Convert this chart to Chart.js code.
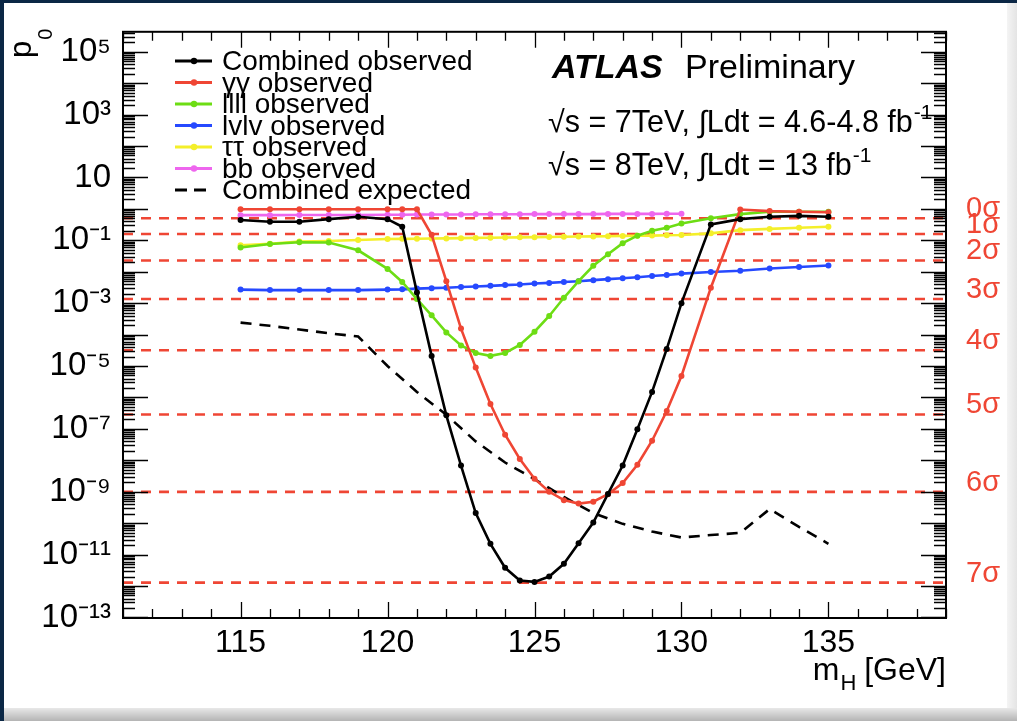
<!DOCTYPE html>
<html><head><meta charset="utf-8">
<script src="https://cdn.jsdelivr.net/npm/chart.js@4"></script>
<style>
html,body{margin:0;padding:0;width:1017px;height:721px;overflow:hidden;background:#0b2745;}
#panel{position:absolute;left:4px;top:3px;width:1003px;height:705px;background:#fff;}
#rstrip{position:absolute;left:1007px;top:3px;width:10px;height:718px;background:linear-gradient(to right,#f4f4f4,#e4e4e4);}
#bstrip{position:absolute;left:4px;top:708px;width:1013px;height:13px;background:linear-gradient(to bottom,#e8e8e8,#b4b4b4);}
canvas{position:absolute;left:0;top:0;}
</style></head>
<body>
<div id="panel"></div><div id="rstrip"></div><div id="bstrip"></div>
<canvas id="c" width="1017" height="721"></canvas>
<script>
// ---------------- data ----------------
const massObs = [115,116,117,118,119,120,120.5,121,121.5,122,122.5,123,123.5,124,124.5,125,125.5,126,126.5,127,127.5,128,128.5,129,129.5,130,131,132,133,134,135];
const massBB = [115,116,117,118,119,120,120.5,121,121.5,122,122.5,123,123.5,124,124.5,125,125.5,126,126.5,127,127.5,128,128.5,129,129.5,130];
const massExp = [115,116,117,118,119,120,121,122,123,124,125,126,127,128,129,130,131,132,133,134,135];

const combinedObs = [0.44,0.39,0.39,0.47,0.56,0.47,0.27,2.2e-3,2.1e-5,2.7e-7,6.8e-9,2.1e-10,2.2e-11,3.8e-12,1.5e-12,1.35e-12,2.0e-12,5.1e-12,2.3e-11,1.05e-10,8.5e-10,6.8e-9,9.8e-8,1.5e-6,3.5e-5,1.0e-3,0.32,0.47,0.56,0.60,0.56];
const gammaGammaObs = [0.97,0.97,0.97,0.97,0.97,0.97,0.97,0.97,0.15,5.0e-3,1.55e-4,8.9e-6,6.2e-7,6.5e-8,1.1e-8,2.6e-9,1.0e-9,5.4e-10,4.2e-10,4.8e-10,8.3e-10,1.9e-9,7.2e-9,4.2e-8,3.7e-7,4.8e-6,3.1e-3,0.95,0.85,0.81,0.78];
const llllObs = [0.059,0.076,0.087,0.085,0.048,0.0123,4.7e-3,1.35e-3,4.1e-4,1.17e-4,4.5e-5,2.6e-5,2.1e-5,2.6e-5,4.7e-5,1.23e-4,3.9e-4,1.48e-3,5.0e-3,0.0155,0.036,0.081,0.14,0.20,0.25,0.34,0.50,0.68,0.81,0.81,0.81];
const lvlvObs = [2.7e-3,2.6e-3,2.6e-3,2.6e-3,2.6e-3,2.7e-3,2.75e-3,2.9e-3,3.0e-3,3.1e-3,3.25e-3,3.4e-3,3.55e-3,3.75e-3,3.9e-3,4.2e-3,4.4e-3,4.7e-3,5.0e-3,5.4e-3,5.8e-3,6.2e-3,6.7e-3,7.3e-3,7.9e-3,8.7e-3,9.8e-3,0.0107,0.0126,0.0141,0.0158];
const tautauObs = [0.069,0.078,0.091,0.095,0.102,0.110,0.111,0.112,0.114,0.115,0.117,0.119,0.120,0.123,0.124,0.126,0.127,0.129,0.132,0.133,0.135,0.138,0.140,0.141,0.144,0.148,0.166,0.21,0.23,0.25,0.27];
const bbObs = [0.63,0.63,0.64,0.64,0.64,0.65,0.65,0.66,0.66,0.66,0.66,0.67,0.67,0.67,0.67,0.68,0.68,0.68,0.68,0.68,0.69,0.69,0.69,0.69,0.70,0.70];
const combinedExp = [2.4e-4,1.9e-4,1.45e-4,1.1e-4,8.7e-5,1.0e-5,1.5e-6,2.8e-7,4.0e-8,8.5e-9,2.5e-9,6.8e-10,2.1e-10,9.5e-11,5.4e-11,3.5e-11,4.2e-11,4.9e-11,2.8e-10,7.6e-11,2.2e-11];

const sigmaLabels = ['0σ','1σ','2σ','3σ','4σ','5σ','6σ','7σ'];
const sigmaP = [0.5,0.1587,0.02275,1.35e-3,3.17e-5,2.87e-7,9.87e-10,1.28e-12];

const xTickValues = [115,120,125,130,135];
const yTickValues = [1e-13,1e-11,1e-9,1e-7,1e-5,1e-3,1e-1,1e1,1e3,1e5];
const yTickLabels = ['10⁻¹³','10⁻¹¹','10⁻⁹','10⁻⁷','10⁻⁵','10⁻³','10⁻¹','10','10³','10⁵'];

const seriesLabels = ['Combined observed','γγ observed','llll observed','lvlv observed','ττ observed','bb observed','Combined expected'];
const seriesColors = ['#000000','#ef4634','#6ddd14','#2649ff','#f4ef2a','#ee66ee','#000000'];

// ---------------- build ----------------
const FONT = '"Liberation Sans", Arial, Helvetica, sans-serif';
const pts = (xs, ys) => xs.map((x, i) => ({x, y: ys[i]}));
const obsSets = [
  [massObs, combinedObs], [massObs, gammaGammaObs], [massObs, llllObs],
  [massObs, lvlvObs], [massObs, tautauObs], [massBB, bbObs]
];
const datasets = [];
obsSets.forEach((s, i) => {
  datasets.push({
    label: seriesLabels[i], data: pts(s[0], s[1]),
    borderColor: seriesColors[i], backgroundColor: seriesColors[i],
    pointBackgroundColor: seriesColors[i], pointBorderWidth: 0,
    borderWidth: 2.6, pointRadius: 3, pointHoverRadius: 3, tension: 0,
    inLegend: true, markers: true
  });
});
datasets.push({
  label: seriesLabels[6], data: pts(massExp, combinedExp),
  borderColor: seriesColors[6], borderWidth: 2.6, borderDash: [11, 8],
  pointRadius: 0, tension: 0, inLegend: true, markers: false
});
sigmaP.forEach((p, i) => {
  datasets.push({
    label: sigmaLabels[i], data: [{x: 111, y: p}, {x: 139, y: p}],
    borderColor: '#ef4634', borderWidth: 2.6, borderDash: [10, 8],
    pointRadius: 0, inLegend: false
  });
});

const decor = {
  id: 'decor',
  afterDatasetsDraw(chart) {
    const {ctx, chartArea: a, scales: {x, y}} = chart;
    ctx.save();
    ctx.strokeStyle = '#000';
    ctx.lineWidth = 1.3;
    ctx.beginPath();
    for (let e = -14; e <= 6; e++) {
      for (let k = 1; k <= 9; k++) {
        const v = k * Math.pow(10, e);
        if (v < y.min || v > y.max) continue;
        const py = Math.round(y.getPixelForValue(v)) + 0.5;
        const len = k === 1 ? 25 : 12;
        ctx.moveTo(a.left, py); ctx.lineTo(a.left + len, py);
        ctx.moveTo(a.right, py); ctx.lineTo(a.right - len, py);
      }
    }
    for (let m = 111; m <= 139; m++) {
      const px = Math.round(x.getPixelForValue(m)) + 0.5;
      const len = m % 5 === 0 ? 16 : 9;
      ctx.moveTo(px, a.bottom); ctx.lineTo(px, a.bottom - len);
      ctx.moveTo(px, a.top); ctx.lineTo(px, a.top + len);
    }
    ctx.stroke();
    ctx.lineWidth = 2;
    ctx.strokeRect(a.left, a.top, a.right - a.left, a.bottom - a.top);
    ctx.restore();
  },
  afterDraw(chart) {
    const {ctx, chartArea: a, scales: {y}} = chart;
    ctx.save();
    ctx.textBaseline = 'alphabetic';
    ctx.textAlign = 'left';
    // legend
    const ds = chart.data.datasets.filter(d => d.inLegend);
    ds.forEach((d, i) => {
      const ly = 61 + i * 21.5;
      ctx.strokeStyle = d.borderColor;
      ctx.lineWidth = 3;
      ctx.setLineDash(d.borderDash ? [12, 7] : []);
      ctx.beginPath(); ctx.moveTo(175, ly); ctx.lineTo(212, ly); ctx.stroke();
      ctx.setLineDash([]);
      if (d.markers) {
        ctx.fillStyle = d.borderColor;
        ctx.beginPath(); ctx.arc(194, ly, 3.2, 0, Math.PI * 2); ctx.fill();
      }
      ctx.fillStyle = '#000';
      ctx.font = '28px ' + FONT;
      ctx.fillText(d.label, 222, ly + 9);
    });
    // ATLAS label
    ctx.fillStyle = '#000';
    ctx.font = 'italic bold 34px ' + FONT;
    ctx.fillText('ATLAS', 552, 78);
    ctx.font = '34px ' + FONT;
    ctx.fillText('Preliminary', 685, 78);
    const lines = [['√s = 7TeV, ∫Ldt = 4.6-4.8 fb', 132], ['√s = 8TeV, ∫Ldt = 13 fb', 175]];
    lines.forEach(([t, by]) => {
      ctx.font = '30.5px ' + FONT;
      ctx.fillText(t, 548, by);
      const w = ctx.measureText(t).width;
      ctx.font = '21px ' + FONT;
      ctx.fillText('-1', 548 + w + 1, by - 13);
    });
    // sigma labels
    ctx.fillStyle = '#ef4634';
    ctx.font = '29px ' + FONT;
    sigmaP.forEach((p, i) => {
      const py = y.getPixelForValue(p);
      ctx.fillText(sigmaLabels[i], 966, py - 1);
    });
    // x title
    ctx.fillStyle = '#000';
    ctx.font = '32px ' + FONT;
    const wm = ctx.measureText('m').width;
    const wg = ctx.measureText(' [GeV]').width;
    ctx.font = '22px ' + FONT;
    const wh = ctx.measureText('H').width;
    const xs = a.right - (wm + wh + wg);
    ctx.font = '32px ' + FONT;
    ctx.fillText('m', xs, 680);
    ctx.font = '22px ' + FONT;
    ctx.fillText('H', xs + wm + 1, 690);
    ctx.font = '32px ' + FONT;
    ctx.fillText(' [GeV]', xs + wm + wh, 680);
    // y title
    ctx.translate(31, 58);
    ctx.rotate(-Math.PI / 2);
    ctx.font = '31px ' + FONT;
    ctx.fillText('p', 0, 0);
    const wp = ctx.measureText('p').width;
    ctx.font = '20px ' + FONT;
    ctx.fillText('0', wp + 1, 21);
    ctx.restore();
  }
};

new Chart(document.getElementById('c'), {
  type: 'line',
  data: {datasets},
  options: {
    responsive: false,
    animation: false,
    events: [],
    layout: {padding: {top: 27, right: 71, left: 0, bottom: 0}},
    plugins: {legend: {display: false}, tooltip: {enabled: false}},
    scales: {
      x: {
        type: 'linear', min: 111, max: 139,
        grid: {display: false, drawTicks: false},
        border: {display: false},
        afterBuildTicks: s => { s.ticks = xTickValues.map(v => ({value: v})); },
        afterFit: s => { s.height = 103; },
        ticks: {font: {family: FONT, size: 32}, color: '#000', padding: 6, maxRotation: 0, autoSkip: false,
          callback: v => String(v)}
      },
      y: {
        type: 'logarithmic', min: 9.6e-14, max: 4.3e5,
        grid: {display: false, drawTicks: false},
        border: {display: false},
        afterBuildTicks: s => { s.ticks = yTickValues.map(v => ({value: v})); },
        afterFit: s => { s.width = 123; },
        ticks: {font: {family: FONT, size: 33}, color: '#000', padding: 12, autoSkip: false,
          callback: v => { const i = yTickValues.findIndex(t => Math.abs(Math.log10(t) - Math.log10(v)) < 1e-6); return i >= 0 ? yTickLabels[i] : ''; }}
      }
    }
  },
  plugins: [decor]
});
</script>
</body></html>
